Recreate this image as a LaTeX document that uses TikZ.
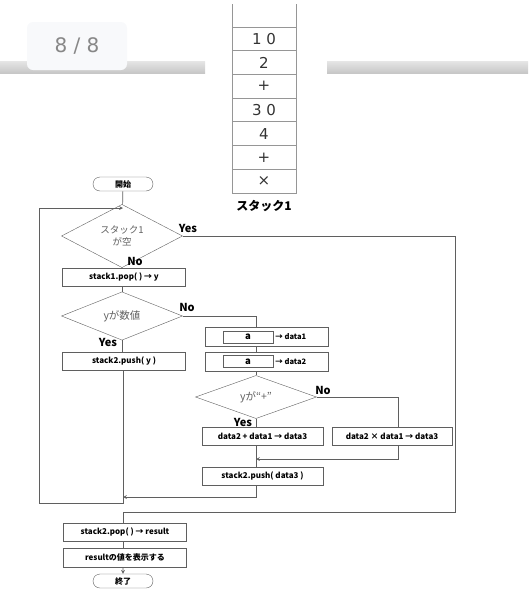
\documentclass[tikz,border=0pt]{standalone}
\usepackage{fontspec}
\setmainfont{Noto Sans CJK JP}
\newfontfamily\vfont{DejaVu Sans}
\usetikzlibrary{shapes.geometric, shapes.misc, arrows, positioning}
\definecolor{linegray}{RGB}{95,95,95}
\definecolor{cellgray}{RGB}{150,150,150}
\definecolor{pagegray}{RGB}{135,135,135}
\definecolor{pillbg}{RGB}{248,249,251}
\definecolor{condtext}{RGB}{95,95,95}
\tikzstyle{term} = [rounded rectangle, minimum width=60, minimum height=14, inner sep=0, draw=linegray, font=\bfseries\fontsize{8}{9}\selectfont]
\tikzstyle{proc} = [rectangle, minimum width=123, minimum height=18, inner sep=0, draw=linegray, font=\bfseries\fontsize{8}{9}\selectfont]
\tikzstyle{inbox} = [rectangle, minimum width=50, minimum height=12, inner sep=0, draw=linegray, font=\bfseries\fontsize{9.5}{9.5}\selectfont]
\tikzstyle{cond} = [diamond, minimum width=121, minimum height=36, inner sep=0, draw=linegray, text=condtext, align=center]
\tikzstyle{branch} = [inner sep=0, font=\bfseries\fontsize{11}{11}\selectfont]
\tikzstyle{cell} = [rectangle, minimum width=64, minimum height=23.7, inner sep=0, draw=cellgray, text=black!80, font=\vfont\fontsize{15}{15}\selectfont]
\tikzstyle{flow} = [draw=linegray, line width=0.7pt]
\tikzstyle{arrow} = [flow, ->, >=stealth]

\begin{document}
\begin{tikzpicture}[x=1pt, y=-1pt]
\useasboundingbox (0,0) rectangle (528,600);

% Page header
\shade[top color=black!10, bottom color=black!22] (0,61) rectangle (205,73);
\shade[top color=black!10, bottom color=black!22] (327,61) rectangle (528,73);
\node (page) [rectangle, rounded corners=6, fill=pillbg, minimum width=100, minimum height=48, text=pagegray, font=\vfont\fontsize{20}{20}\selectfont] at (77,46) {8 / 8};

% Stack 1
\draw[cellgray, line width=0.8pt] (232,4) -- (232,27) (296,4) -- (296,27);
\foreach \v [count=\i] in {1 0, 2, +, 3 0, 4, +, ×}
  \node (cell\i) [cell, line width=0.8pt] at (264,{15.15+23.7*\i}) {\v};
\node (stackname) [below=7pt of cell7, inner sep=0, font=\bfseries\fontsize{12}{12}\selectfont] {スタック1};

% Main flow
\node (start) [term] at (123,184) {開始};
\node (empty) [cond, font=\fontsize{9.5}{10.5}\selectfont] at (122,236) {\raisebox{-3pt}{\shortstack{スタック1\\が空}}};
\node (pop1) [proc] at (124,277) {stack1.pop( ) → y};
\node (isnum) [cond, font=\fontsize{10.5}{10.5}\selectfont] at (122,316) {yが数値};
\node (pushy) [proc] at (124,361) {stack2.push( y )};

% Operator branch
\node (get1) [proc, minimum height=19] at (267,336.5) {};
\node (in1) [inbox] at (248,337) {a};
\node (to1) [right=2pt of in1, inner sep=0, font=\bfseries\fontsize{7.5}{7.5}\selectfont] {→ data1};
\node (get2) [proc, minimum height=19] at (267,361.5) {};
\node (in2) [inbox] at (248,361.5) {a};
\node (to2) [right=2pt of in2, inner sep=0, font=\bfseries\fontsize{7.5}{7.5}\selectfont] {→ data2};
\node (isplus) [cond, font=\fontsize{10.5}{10.5}\selectfont] at (256,397) {yが“+”};
\node (add) [proc, minimum width=121] at (262.5,436.5) {data2 + data1 → data3};
\node (mul) [proc, minimum width=120] at (392,436.5) {data2 × data1 → data3};
\node (push3) [proc, minimum width=121] at (262.5,476) {stack2.push( data3 )};

% Result
\node (pop2) [proc] at (125,532) {stack2.pop( ) → result};
\node (show) [proc, minimum height=19] at (125,557.5) {resultの値を表示する};
\node (stop) [term] at (123,581) {終了};

% Branch labels
\node (yes1) [branch] at (188,228) {Yes};
\node (no1) [branch] at (135,261) {No};
\node (no2) [branch] at (187,307) {No};
\node (yes2) [branch] at (108,342) {Yes};
\node (no3) [branch] at (323,390) {No};
\node (yes3) [branch] at (243,422) {Yes};

% Corner points
\coordinate (loopin) at (123,208);
\coordinate (loopend) at (123,503);
\coordinate (loopleft) at (39,503);
\coordinate (merge) at (256,459);
\coordinate (back) at (123,497);
\coordinate (yesdrop) at (455,512);
\coordinate (mulin) at (398,428);

% Connectors
\draw[flow] (start) -- (empty);
\draw[flow] (empty) -- (empty.south |- pop1.north);
\draw[flow] (pop1.south -| empty) -- (isnum);
\draw[flow] (isnum) -- (isnum.south |- pushy.north);
\draw[arrow] (pushy.south -| start) -- (loopend) -- (loopleft) |- (loopin);
\draw[flow] (isnum.east) -| (get1.north -| isplus);
\draw[flow] (get1.south -| isplus) -- (get2.north -| isplus);
\draw[flow] (get2.south -| isplus) -- (isplus);
\draw[flow] (isplus) -- (isplus.south |- add.north);
\draw[flow] (isplus.east) -| (mulin);
\draw[arrow] (mulin |- mul.south) |- (merge);
\draw[flow] (add.south -| merge) -- (push3.north -| merge);
\draw[arrow] (push3.south -| merge) |- (back);
\draw[flow] (empty.east) -| (yesdrop) -| (pop2.north -| start);
\draw[flow] (pop2.south -| start) -- (show.north -| start);
\draw[arrow] (show.south -| start) -- (stop);

\end{tikzpicture}
\end{document}
